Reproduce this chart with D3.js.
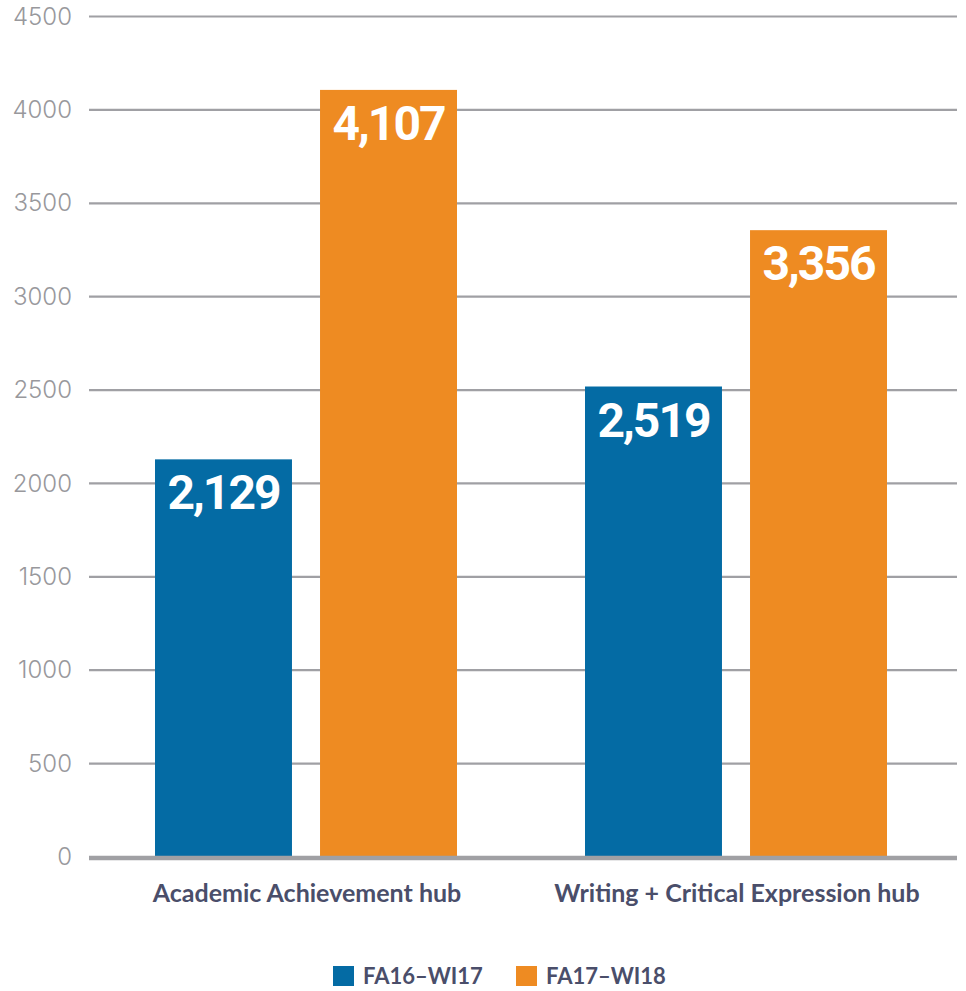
<html>
<head>
<meta charset="utf-8">
<script src="https://cdnjs.cloudflare.com/ajax/libs/d3/7.8.5/d3.min.js"></script>
<style>
  body { margin: 0; background: #fff; }
</style>
</head>
<body>
<div id="chartContainer"></div>
<script>
  // chart data
  var categories = ["Academic Achievement hub", "Writing + Critical Expression hub"];
  var seriesNames = ["FA16\u2013WI17", "FA17\u2013WI18"];
  var fa16Values = [2129, 2519];
  var fa17Values = [4107, 3356];
  var yTicks = [0, 500, 1000, 1500, 2000, 2500, 3000, 3500, 4000, 4500];
  var seriesColors = ["#046ba4", "#ee8b22"];

  var width = 966, height = 991;
  var svg = d3.select("#chartContainer").append("svg")
    .attr("width", width)
    .attr("height", height);

  // scales
  var y = d3.scaleLinear().domain([0, 4500]).range([857, 16.5]);
  var x0 = d3.scaleBand().domain(categories).range([91, 951]).padding(0);
  var x1 = d3.scaleBand().domain(seriesNames).range([0, 302]).paddingInner(0.17).paddingOuter(0);
  var color = d3.scaleOrdinal().domain(seriesNames).range(seriesColors);

  var rows = categories.map(function (c, i) {
    return { cat: c, vals: [
      { name: seriesNames[0], value: fa16Values[i] },
      { name: seriesNames[1], value: fa17Values[i] }
    ]};
  });

  // y axis labels (no thousands separator)
  var yAxis = d3.axisLeft(y).tickValues(yTicks).tickFormat(d3.format("d")).tickSize(0).tickPadding(0);
  var gAxis = svg.append("g").attr("transform", "translate(72,0)").call(yAxis);
  gAxis.select(".domain").remove();
  gAxis.selectAll("text")
    .style("font-family", "Inter, sans-serif")
    .style("font-weight", "300")
    .style("font-size", "24px")
    .style("fill", "#98989c");

  // gridlines
  svg.append("g").selectAll("line")
    .data(yTicks.filter(function (d) { return d > 0; }))
    .enter().append("line")
      .attr("x1", 89).attr("x2", 957)
      .attr("y1", function (d) { return y(d); })
      .attr("y2", function (d) { return y(d); })
      .style("stroke", "#a0a0a4")
      .style("stroke-width", 2.2);

  // bars
  var groups = svg.append("g").selectAll("g")
    .data(rows)
    .enter().append("g")
      .attr("transform", function (d) { return "translate(" + (x0(d.cat) + (x0.bandwidth() - 302) / 2) + ",0)"; });

  groups.selectAll("rect")
    .data(function (d) { return d.vals; })
    .enter().append("rect")
      .attr("x", function (d) { return x1(d.name); })
      .attr("y", function (d) { return y(d.value); })
      .attr("width", x1.bandwidth())
      .attr("height", function (d) { return y(0) - y(d.value); })
      .style("fill", function (d) { return color(d.name); });

  groups.selectAll("text")
    .data(function (d) { return d.vals; })
    .enter().append("text")
      .attr("x", function (d) { return x1(d.name) + x1.bandwidth() / 2; })
      .attr("y", function (d) { return y(d.value) + 50; })
      .attr("text-anchor", "middle")
      .text(function (d) { return d3.format(",")(d.value); })
      .style("font-family", "Roboto, sans-serif")
      .style("font-weight", "700")
      .style("font-size", "48px")
      .style("letter-spacing", "-2px")
      .style("fill", "#fff");

  // baseline
  svg.append("line")
    .attr("x1", 89).attr("x2", 957)
    .attr("y1", y(0) + 1).attr("y2", y(0) + 1)
    .style("stroke", "#a0a0a4")
    .style("stroke-width", 4.5);

  // category labels
  svg.append("g").selectAll("text")
    .data(categories)
    .enter().append("text")
      .attr("x", function (d) { return x0(d) + x0.bandwidth() / 2 + 1; })
      .attr("y", 902)
      .attr("text-anchor", "middle")
      .text(function (d) { return d; })
      .style("font-family", "Lato, sans-serif")
      .style("font-weight", "700")
      .style("font-size", "25px")
      .style("fill", "#4a4e6a");

  // legend
  var legendX = [333, 516];
  var legend = svg.append("g").selectAll("g")
    .data(seriesNames)
    .enter().append("g")
      .attr("transform", function (d, i) { return "translate(" + legendX[i] + ",966)"; });

  legend.append("rect")
    .attr("width", 21).attr("height", 20)
    .style("fill", function (d) { return color(d); });

  legend.append("text")
    .attr("x", 30).attr("y", 18)
    .text(function (d) { return d; })
    .style("font-family", "Lato, sans-serif")
    .style("font-weight", "700")
    .style("font-size", "22px")
    .style("fill", "#4a4e6a");
</script>
</body>
</html>
